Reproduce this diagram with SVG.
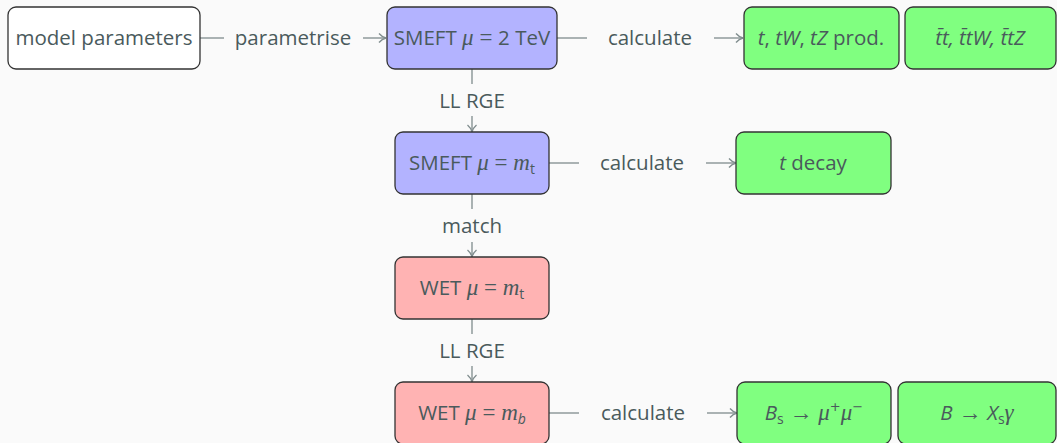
<svg xmlns="http://www.w3.org/2000/svg" width="1057" height="443" viewBox="0 0 1057 443">
<defs>
<marker id="arr" markerWidth="12" markerHeight="12" refX="10" refY="6" orient="auto" markerUnits="userSpaceOnUse">
<path d="M3,1.5 Q6,5 10,6 Q6,7 3,10.5" fill="none" stroke="#7f8c8d" stroke-width="1.3"/>
</marker>
</defs>
<style>
.bg{fill:#fafafa}
.box{stroke:#333;stroke-width:1.3}
.white{fill:#ffffff}
.blue{fill:#b3b3ff}
.green{fill:#80ff80}
.red{fill:#ffb3b3}
text{font-family:"Open Sans","DejaVu Sans",sans-serif;font-size:20.5px;fill:#4a5a5c;font-weight:400}
.lbl{text-anchor:middle}
.m{font-family:"Liberation Serif","DejaVu Serif",serif;font-style:italic;font-size:23px}
.mr{font-family:"Liberation Serif","DejaVu Serif",serif;font-size:23px}
.it{font-style:italic}
.sub{font-size:14px}
.sup{font-family:"DejaVu Sans",sans-serif;font-size:13px}
.conn line{stroke:#7f8c8d;stroke-width:1.3}
</style>
<rect class="bg" x="0" y="0" width="1057" height="443"/>

<g class="conn" id="connectors">
<line x1="200" y1="38" x2="224" y2="38"/>
<line x1="363" y1="38" x2="386" y2="38" marker-end="url(#arr)"/>
<line x1="557" y1="38" x2="587" y2="38"/>
<line x1="714" y1="38" x2="743" y2="38" marker-end="url(#arr)"/>
<line x1="472" y1="69" x2="472" y2="84"/>
<line x1="472" y1="116" x2="472" y2="132" marker-end="url(#arr)"/>
<line x1="549" y1="163" x2="579" y2="163"/>
<line x1="706" y1="163" x2="736" y2="163" marker-end="url(#arr)"/>
<line x1="472" y1="194" x2="472" y2="209"/>
<line x1="472" y1="242" x2="472" y2="257" marker-end="url(#arr)"/>
<line x1="472" y1="319" x2="472" y2="334"/>
<line x1="472" y1="366" x2="472" y2="382" marker-end="url(#arr)"/>
<line x1="549" y1="413" x2="579" y2="413"/>
<line x1="707" y1="413" x2="737" y2="413" marker-end="url(#arr)"/>
<text class="lbl" x="293" y="45">parametrise</text>
<text class="lbl" x="650" y="45">calculate</text>
<text class="lbl" x="472" y="108">LL RGE</text>
<text class="lbl" x="642" y="170">calculate</text>
<text class="lbl" x="472" y="233">match</text>
<text class="lbl" x="472" y="358">LL RGE</text>
<text class="lbl" x="643" y="420">calculate</text>
</g>

<g id="model-parameters">
<rect class="box white" x="8" y="7" width="192" height="62" rx="8"/>
<text class="lbl" x="104" y="45">model parameters</text>
</g>

<g id="smeft-2tev">
<rect class="box blue" x="387" y="7" width="170" height="62" rx="8"/>
<text class="lbl" x="472" y="45">SMEFT <tspan class="m">μ</tspan><tspan class="mr"> = </tspan>2 TeV</text>
</g>

<g id="prod">
<rect class="box green" x="744" y="7" width="155" height="62" rx="8"/>
<text class="lbl" x="821" y="45"><tspan class="it">t</tspan>, <tspan class="it">tW</tspan>, <tspan class="it">tZ</tspan> prod.</text>
</g>

<g id="ttbar">
<rect class="box green" x="905" y="7" width="151" height="62" rx="8"/>
<text class="lbl it" x="980" y="45">t̄t, t̄tW, t̄tZ</text>
</g>

<g id="smeft-mt">
<rect class="box blue" x="395" y="132" width="154" height="62" rx="8"/>
<text class="lbl" x="472" y="170">SMEFT <tspan class="m">μ</tspan><tspan class="mr"> = </tspan><tspan class="m">m</tspan><tspan class="sub" dy="4">t</tspan></text>
</g>

<g id="t-decay">
<rect class="box green" x="736" y="132" width="155" height="62" rx="8"/>
<text class="lbl" x="813" y="170"><tspan class="it">t</tspan> decay</text>
</g>

<g id="wet-mt">
<rect class="box red" x="395" y="257" width="154" height="62" rx="8"/>
<text class="lbl" x="472" y="295">WET <tspan class="m">μ</tspan><tspan class="mr"> = </tspan><tspan class="m">m</tspan><tspan class="sub" dy="4">t</tspan></text>
</g>

<g id="wet-mb">
<rect class="box red" x="395" y="382" width="154" height="62" rx="8"/>
<text class="lbl" x="472" y="420">WET <tspan class="m">μ</tspan><tspan class="mr"> = </tspan><tspan class="m">m</tspan><tspan class="sub it" dy="4">b</tspan></text>
</g>

<g id="bs-mumu">
<rect class="box green" x="737" y="382" width="154" height="62" rx="8"/>
<text class="lbl" x="814" y="420"><tspan class="it">B</tspan><tspan class="sub" dy="4">s</tspan><tspan class="mr" dy="-4"> → </tspan><tspan class="m">μ</tspan><tspan class="sup" dy="-9">+</tspan><tspan class="m" dy="9">μ</tspan><tspan class="sup" dy="-9">−</tspan></text>
</g>

<g id="b-xsgamma">
<rect class="box green" x="898" y="382" width="158" height="62" rx="8"/>
<text class="lbl" x="977" y="420"><tspan class="it">B</tspan><tspan class="mr"> → </tspan><tspan class="it">X</tspan><tspan class="sub" dy="4">s</tspan><tspan class="m" dy="-4">γ</tspan></text>
</g>
</svg>
